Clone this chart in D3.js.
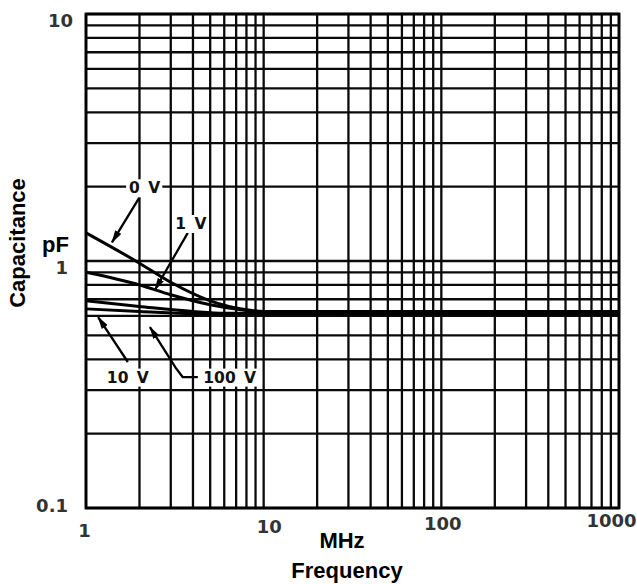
<!DOCTYPE html>
<html>
<head>
<meta charset="utf-8">
<script src="https://cdn.jsdelivr.net/npm/d3@7"></script>
<style>
  body { margin: 0; background: #fff; }
  text { font-weight: bold; }
</style>
</head>
<body>
<div id="chart-area"></div>
<script>
// Capacitance vs frequency, one curve per bias voltage
var seriesNames = ["0 V", "1 V", "10 V", "100 V"];
var freq0V = [1, 2, 3, 5, 8, 10, 1000];
var cap0V = [1.30, 0.98, 0.82, 0.69, 0.635, 0.625, 0.625];
var freq1V = [1, 2, 3, 5, 8, 10, 1000];
var cap1V = [0.90, 0.80, 0.73, 0.665, 0.63, 0.62, 0.62];
var freq10V = [1, 2, 4, 6, 1000];
var cap10V = [0.69, 0.655, 0.625, 0.615, 0.615];
var freq100V = [1, 2, 4, 1000];
var cap100V = [0.64, 0.625, 0.612, 0.61];

var xTickLabels = [1, 10, 100, 1000];
var yTickLabels = [0.1, 1, 10];

// annotation anchors in data units (freq, pF)
var labelPos = [[2.14, 1.98], [3.89, 1.42], [1.72, 0.339], [6.44, 0.339]];
var arrowPaths = [
    [[2.0, 1.81], [1.40, 1.19]],
    [[3.74, 1.30], [2.44, 0.763]],
    [[1.72, 0.39], [1.17, 0.593]],
    [[4.26, 0.339], [3.50, 0.339], [3.20, 0.369], [2.29, 0.54]]
];

var margin = { left: 86, right: 18, top: 14, bottom: 76 };
var width = 637 - margin.left - margin.right,
    height = 584 - margin.top - margin.bottom;

var svg = d3.select("#chart-area")
    .append("svg")
    .attr("width", 637)
    .attr("height", 584);

var defs = svg.append("defs");
defs.append("marker")
    .attr("id", "arrow")
    .attr("viewBox", "0 0 13 7")
    .attr("refX", 12)
    .attr("refY", 3.5)
    .attr("markerWidth", 13)
    .attr("markerHeight", 7)
    .attr("markerUnits", "userSpaceOnUse")
    .attr("orient", "auto")
    .append("path")
    .attr("d", "M0,0 L13,3.5 L0,7 Z")
    .attr("fill", "#000");

var g = svg.append("g")
    .attr("transform", "translate(" + margin.left + ", " + margin.top + ")");

var x = d3.scaleLog().domain([1, 1000]).range([0, width]);
var y = d3.scaleLog().domain([0.1, 10]).range([height, 0]);

// grid
g.append("g")
    .selectAll("line")
    .data(x.ticks())
    .enter()
    .append("line")
    .attr("x1", function (d) { return x(d); })
    .attr("x2", function (d) { return x(d); })
    .attr("y1", 0)
    .attr("y2", height)
    .attr("stroke", "#0a0a0a")
    .attr("stroke-width", 2.3);

g.append("g")
    .selectAll("line")
    .data(y.ticks())
    .enter()
    .append("line")
    .attr("y1", function (d) { return y(d); })
    .attr("y2", function (d) { return y(d); })
    .attr("x1", 0)
    .attr("x2", width)
    .attr("stroke", "#0a0a0a")
    .attr("stroke-width", 2.3);

g.append("rect")
    .attr("width", width)
    .attr("height", height)
    .attr("fill", "none")
    .attr("stroke", "#000")
    .attr("stroke-width", 2.8);

// curves
var line = d3.line()
    .x(function (d) { return x(d[0]); })
    .y(function (d) { return y(d[1]); })
    .curve(d3.curveMonotoneX);

var series = [
    d3.zip(freq0V, cap0V),
    d3.zip(freq1V, cap1V),
    d3.zip(freq10V, cap10V),
    d3.zip(freq100V, cap100V)
];

g.selectAll(".curve")
    .data(series)
    .enter()
    .append("path")
    .attr("class", "curve")
    .attr("d", line)
    .attr("fill", "none")
    .attr("stroke", "#000")
    .attr("stroke-width", 3);

// annotations
var arrowLine = d3.line()
    .x(function (d) { return x(d[0]); })
    .y(function (d) { return y(d[1]); });

g.selectAll(".arrow")
    .data(arrowPaths)
    .enter()
    .append("path")
    .attr("class", "arrow")
    .attr("d", arrowLine)
    .attr("fill", "none")
    .attr("stroke", "#000")
    .attr("stroke-width", 2.3)
    .attr("marker-end", "url(#arrow)");

var labels = g.selectAll(".vlabel")
    .data(seriesNames)
    .enter()
    .append("g")
    .attr("class", "vlabel")
    .attr("transform", function (d, i) {
        return "translate(" + x(labelPos[i][0]) + ", " + y(labelPos[i][1]) + ")";
    });

labels.append("text")
    .attr("text-anchor", "middle")
    .attr("dy", "0.36em")
    .attr("font-family", "'DejaVu Sans', sans-serif")
    .attr("font-size", "15.5px")
    .attr("word-spacing", "3px")
    .attr("fill", "#111")
    .text(function (d) { return d; })
    .each(function () {
        var b = this.getBBox();
        d3.select(this.parentNode).insert("rect", "text")
            .attr("x", b.x - 3)
            .attr("y", b.y)
            .attr("width", b.width + 5)
            .attr("height", b.height)
            .attr("fill", "#fff");
    });

// axes (labels only)
var xLabelShift = { 1: [-2, 29], 10: [5, 25], 100: [1, 22], 1000: [-8, 19] };
var xAxisCall = d3.axisBottom(x)
    .tickValues(xTickLabels)
    .tickSize(0)
    .tickFormat(d3.format("d"));
var xAxis = g.append("g")
    .attr("transform", "translate(0, " + height + ")")
    .call(xAxisCall);
xAxis.select(".domain").remove();
xAxis.selectAll("text")
    .attr("font-family", "'DejaVu Sans', sans-serif")
    .attr("font-size", "18px")
    .attr("fill", "#333")
    .attr("dy", 0)
    .attr("x", function (d) { return xLabelShift[d][0]; })
    .attr("y", function (d) { return xLabelShift[d][1]; });

var yLabelShift = { 0.1: [-18, 3], 1: [-18, 12], 10: [-13, 12] };
var yAxisCall = d3.axisLeft(y)
    .tickValues(yTickLabels)
    .tickSize(0)
    .tickFormat(function (d) { return d < 1 ? "0.1" : d3.format("d")(d); });
var yAxis = g.append("g").call(yAxisCall);
yAxis.select(".domain").remove();
yAxis.selectAll("text")
    .attr("font-family", "'DejaVu Sans', sans-serif")
    .attr("font-size", "18px")
    .attr("fill", "#333")
    .attr("dy", 0)
    .attr("x", function (d) { return yLabelShift[d][0]; })
    .attr("y", function (d) { return yLabelShift[d][1]; });

// titles
svg.append("text")
    .attr("x", 342)
    .attr("y", 548)
    .attr("font-family", "'Liberation Sans', Arial, sans-serif")
    .attr("font-size", "22px")
    .attr("text-anchor", "middle")
    .attr("fill", "#000")
    .text("MHz");

svg.append("text")
    .attr("x", 347)
    .attr("y", 578)
    .attr("font-family", "'Liberation Sans', Arial, sans-serif")
    .attr("font-size", "22px")
    .attr("text-anchor", "middle")
    .attr("fill", "#000")
    .text("Frequency");

svg.append("text")
    .attr("x", 42)
    .attr("y", 252)
    .attr("font-family", "'Liberation Sans', Arial, sans-serif")
    .attr("font-size", "22px")
    .attr("fill", "#000")
    .text("pF");

svg.append("text")
    .attr("transform", "translate(25, 243) rotate(-90)")
    .attr("font-family", "'Liberation Sans', Arial, sans-serif")
    .attr("font-size", "22px")
    .attr("text-anchor", "middle")
    .attr("fill", "#000")
    .text("Capacitance");
</script>
</body>
</html>
